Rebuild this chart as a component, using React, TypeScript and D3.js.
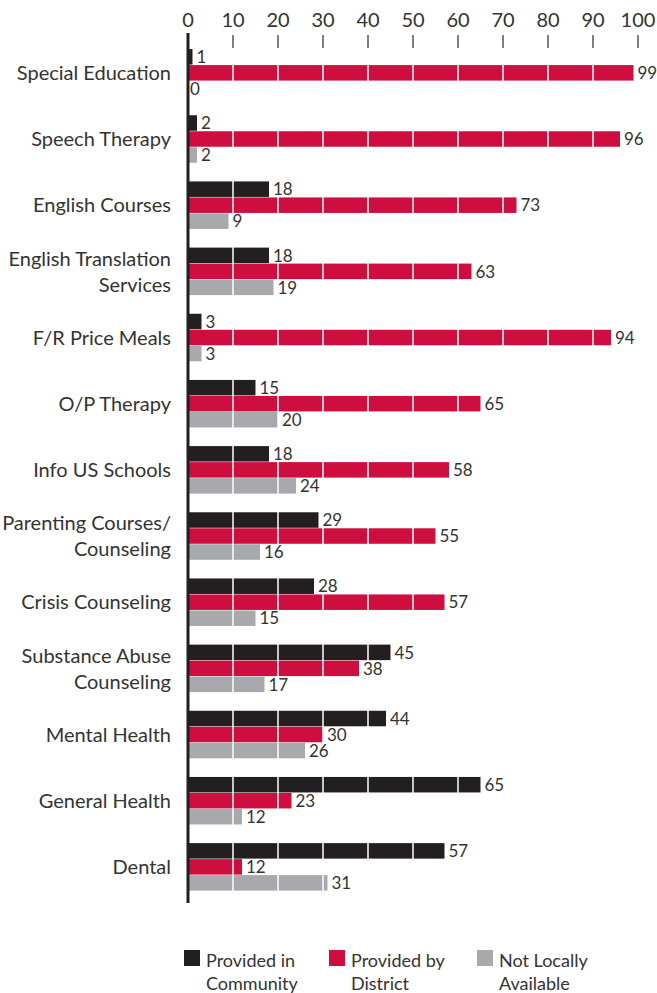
import React, { useEffect, useRef } from "react";
import * as d3 from "d3";

const categories: string[][] = [
  ["Special Education"],
  ["Speech Therapy"],
  ["English Courses"],
  ["English Translation", "Services"],
  ["F/R Price Meals"],
  ["O/P Therapy"],
  ["Info US Schools"],
  ["Parenting Courses/", "Counseling"],
  ["Crisis Counseling"],
  ["Substance Abuse", "Counseling"],
  ["Mental Health"],
  ["General Health"],
  ["Dental"],
];
const community = [1, 2, 18, 18, 3, 15, 18, 29, 28, 45, 44, 65, 57];
const district = [99, 96, 73, 63, 94, 65, 58, 55, 57, 38, 30, 23, 12];
const notLocal = [0, 2, 9, 19, 3, 20, 24, 16, 15, 17, 26, 12, 31];
const seriesNames = ["community", "district", "notLocal"];
const legendLabels: string[][] = [
  ["Provided in", "Community"],
  ["Provided by", "District"],
  ["Not Locally", "Available"],
];
const ticks = [0, 10, 20, 30, 40, 50, 60, 70, 80, 90, 100];

const colors = ["#231f20", "#ce0e3f", "#a7a9ac"];
const FONT = "Lato, 'Open Sans', sans-serif";

export default function App() {
  const ref = useRef<SVGSVGElement>(null);
  useEffect(() => {
    document.body.style.margin = "0";
    const svg = d3.select(ref.current);
    svg.selectAll("*").remove();
    const W = 657, H = 993;
    const x = d3.scaleLinear().domain([0, 100]).range([188, 638]);
    const keys = categories.map((c) => c.join(" "));
    const step = 66.17;
    const y = d3.scaleBand<string>().domain(keys).range([40, 40 + 13 * step]).padding(0);
    const ys = d3.scaleBand<string>().domain(seriesNames).range([0, 48]).padding(0);
    const data = [community, district, notLocal];

    const g = svg.append("g");
    // bars
    keys.forEach((k, i) => {
      const top = (y(k) as number) + y.bandwidth() / 2 - 24;
      seriesNames.forEach((s, j) => {
        const v = data[j][i];
        g.append("rect")
          .attr("x", x(0))
          .attr("y", top + (ys(s) as number))
          .attr("width", x(v) - x(0))
          .attr("height", 15.5)
          .attr("fill", colors[j]);
      });
    });
    // white gridlines across bars
    ticks.slice(1, 10).forEach((t) => {
      g.append("line")
        .attr("x1", x(t)).attr("x2", x(t))
        .attr("y1", 45).attr("y2", 900)
        .attr("stroke", "#fff").attr("stroke-width", 1.5);
    });
    // value labels
    keys.forEach((k, i) => {
      const top = (y(k) as number) + y.bandwidth() / 2 - 24;
      seriesNames.forEach((s, j) => {
        const v = data[j][i];
        g.append("text")
          .attr("x", x(v) + (v === 0 ? 2 : 4))
          .attr("y", top + (ys(s) as number) + 8)
          .attr("dy", "0.35em")
          .attr("font-family", FONT)
          .attr("font-size", 17)
          .attr("fill", "#333")
          .text(v);
      });
    });
    // category labels
    keys.forEach((k, i) => {
      const cy = (y(k) as number) + y.bandwidth() / 2;
      const lines = categories[i];
      lines.forEach((ln, li) => {
        const off = lines.length === 1 ? 0 : (li === 0 ? -13 : 13);
        g.append("text")
          .attr("x", 171)
          .attr("y", cy + off)
          .attr("dy", "0.35em")
          .attr("text-anchor", "end")
          .attr("font-family", FONT)
          .attr("font-size", 20)
          .attr("fill", "#333")
          .text(ln);
      });
    });
    // axis ticks
    ticks.forEach((t) => {
      if (t > 0)
        g.append("line")
          .attr("x1", x(t)).attr("x2", x(t))
          .attr("y1", 35).attr("y2", 48)
          .attr("stroke", "#555").attr("stroke-width", 1.5);
      g.append("text")
        .attr("x", x(t))
        .attr("y", 20)
        .attr("dy", "0.35em")
        .attr("text-anchor", "middle")
        .attr("font-family", FONT)
        .attr("font-size", 20)
        .attr("fill", "#333")
        .text(t);
    });
    // vertical axis line
    g.append("line")
      .attr("x1", x(0)).attr("x2", x(0))
      .attr("y1", 33).attr("y2", 903)
      .attr("stroke", "#231f20").attr("stroke-width", 3);
    // legend
    const lx = [184, 329, 477];
    legendLabels.forEach((lab, j) => {
      g.append("rect")
        .attr("x", lx[j]).attr("y", 950)
        .attr("width", 16).attr("height", 16)
        .attr("fill", colors[j]);
      lab.forEach((ln, li) => {
        g.append("text")
          .attr("x", lx[j] + 22)
          .attr("y", 967 + li * 23)
          .attr("font-family", FONT)
          .attr("font-size", 18)
          .attr("fill", "#333")
          .text(ln);
      });
    });
    svg.attr("width", W).attr("height", H);
  }, []);
  return <svg ref={ref} width={657} height={993} style={{ display: "block" }} />;
}
